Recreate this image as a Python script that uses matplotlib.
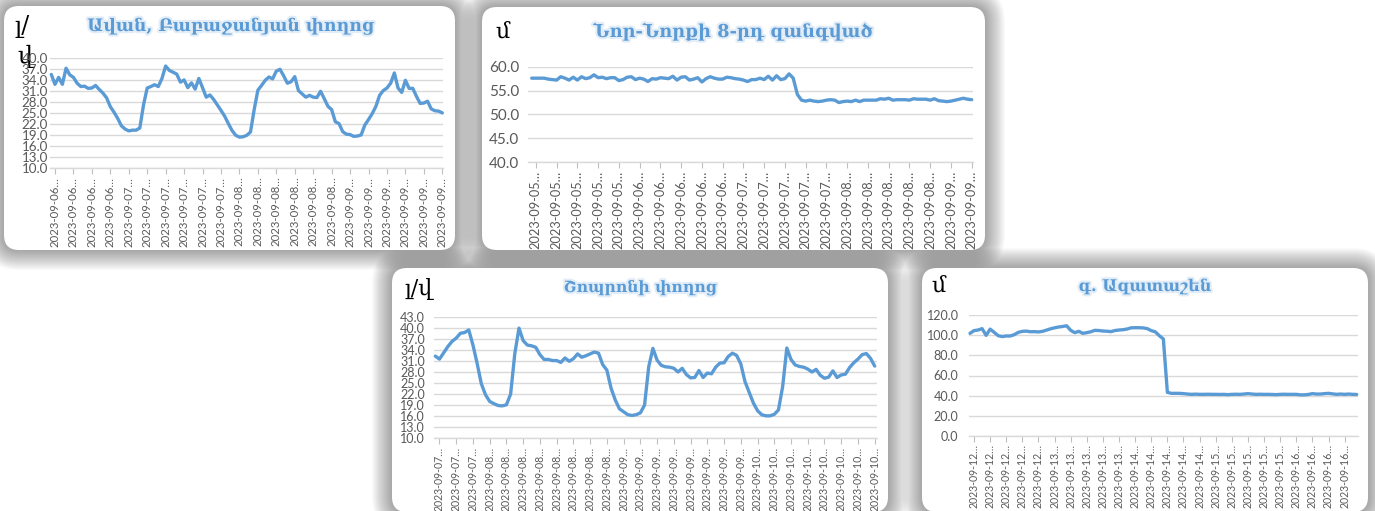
import numpy as np
import matplotlib
matplotlib.use("Agg")
import matplotlib.pyplot as plt
from matplotlib.patches import FancyBboxPatch
import matplotlib.patheffects as pe

W, H = 1375, 511

# ---------------- data ----------------
avan_title = "Ավան, Բաբաջանյան փողոց"
avan_values = [35.6, 32.9, 34.8, 32.9, 37.3, 35.5, 34.8, 33.2, 32.3, 32.4,
               31.8, 31.9, 32.6, 31.5, 30.5, 29.2, 26.8, 25.3, 23.6, 21.6,
               20.7, 20.2, 20.4, 20.4, 21.0, 27.3, 31.9, 32.3, 32.8, 32.3,
               34.5, 37.9, 36.7, 36.2, 35.7, 33.5, 34.1, 32.0, 33.3, 31.6,
               34.5, 32.0, 29.4, 30.0, 28.8, 27.3, 25.8, 24.2, 22.2, 20.3,
               19.0, 18.5, 18.6, 19.0, 19.9, 26.0, 31.3, 32.6, 34.0, 34.9,
               34.4, 36.5, 37.0, 35.2, 33.2, 33.6, 35.0, 31.2, 30.3, 29.4,
               29.9, 29.4, 29.3, 31.0, 29.0, 26.9, 26.0, 22.7, 22.2, 20.0,
               19.3, 19.2, 18.7, 18.8, 19.1, 21.8, 23.3, 24.9, 26.9, 29.9,
               31.2, 31.9, 33.2, 36.0, 31.9, 30.7, 34.0, 31.8, 31.8, 29.6,
               27.7, 27.8, 28.3, 26.2, 25.7, 25.6, 25.1]
avan_labels = (["2023-09-06…"] * 4 + ["2023-09-07…"] * 6 +
               ["2023-09-08…"] * 6 + ["2023-09-09…"] * 6)
avan_yticks = [10, 13, 16, 19, 22, 25, 28, 31, 34, 37, 40]

nornork_title = "Նոր-Նորքի 8-րդ զանգված"
nornork_values = [57.6, 57.6, 57.6, 57.6, 57.4, 57.3, 57.2, 57.9, 57.6, 57.2,
                  57.8, 57.2, 57.9, 57.5, 57.7, 58.3, 57.7, 57.8, 57.5, 57.7,
                  57.7, 57.1, 57.3, 57.8, 57.9, 57.3, 57.6, 57.4, 56.9, 57.5,
                  57.4, 57.7, 57.6, 57.5, 58.0, 57.2, 57.8, 57.9, 57.2, 57.4,
                  57.7, 56.8, 57.5, 57.9, 57.6, 57.4, 57.4, 57.8, 57.7, 57.5,
                  57.4, 57.2, 56.9, 57.3, 57.3, 57.6, 57.3, 58.0, 57.2, 58.1,
                  57.3, 57.5, 58.5, 57.6, 54.2, 53.0, 52.8, 53.0, 52.8, 52.7,
                  52.8, 53.0, 53.1, 53.0, 52.5, 52.7, 52.8, 52.7, 53.0, 52.7,
                  53.0, 53.0, 53.0, 53.0, 53.3, 53.2, 53.4, 53.0, 53.1, 53.1,
                  53.1, 53.0, 53.3, 53.2, 53.2, 53.2, 53.0, 53.3, 52.9, 52.8,
                  52.7, 52.8, 53.0, 53.2, 53.4, 53.2, 53.1]
nornork_labels = (["2023-09-05…"] * 5 + ["2023-09-06…"] * 5 +
                  ["2023-09-07…"] * 5 + ["2023-09-08…"] * 5 +
                  ["2023-09-09…"] * 2)
nornork_yticks = [40, 45, 50, 55, 60]

shopron_title = "Շոպրոնի փողոց"
shopron_values = [32.3, 31.5, 33.2, 34.9, 36.3, 37.2, 38.5, 38.7, 39.4, 35.3,
                  30.3, 24.8, 21.8, 20.0, 19.4, 18.9, 18.8, 19.1, 22.0, 33.0,
                  39.9, 36.5, 35.3, 35.1, 34.7, 32.7, 31.4, 31.4, 31.1, 31.1,
                  30.6, 31.8, 30.9, 31.6, 32.9, 32.0, 32.4, 32.9, 33.4, 33.1,
                  30.0, 28.5, 23.6, 20.4, 18.0, 17.2, 16.4, 16.2, 16.4, 16.9,
                  19.0, 29.4, 34.4, 31.2, 29.8, 29.4, 29.3, 29.0, 28.0, 29.0,
                  27.3, 26.4, 26.5, 28.4, 26.5, 27.7, 27.5, 29.3, 30.4, 30.5,
                  32.2, 33.1, 32.5, 30.2, 25.4, 22.5, 19.6, 17.5, 16.4, 16.1,
                  16.1, 16.5, 17.7, 24.0, 34.5, 31.4, 29.9, 29.5, 29.3, 28.8,
                  28.0, 28.7, 27.1, 26.3, 26.6, 28.3, 26.5, 27.2, 27.4, 29.2,
                  30.5, 31.5, 32.7, 33.0, 31.7, 29.6]
shopron_labels = (["2023-09-07…"] * 3 + ["2023-09-08…"] * 8 +
                  ["2023-09-09…"] * 8 + ["2023-09-10…"] * 8)
shopron_yticks = [10, 13, 16, 19, 22, 25, 28, 31, 34, 37, 40, 43]

azat_title = "գ. Ազատաշեն"
azat_values = [101.8, 104.5, 105.1, 106.5, 99.8, 106.0, 102.8, 99.5, 98.6, 99.2,
               99.2, 100.5, 102.8, 103.8, 104.0, 103.4, 103.5, 103.2, 103.8, 105.0,
               106.3, 107.3, 108.1, 108.6, 109.3, 104.8, 102.5, 103.8, 101.8, 102.5,
               103.4, 104.8, 104.6, 104.1, 103.9, 103.5, 104.6, 105.1, 105.4, 106.1,
               107.3, 107.4, 107.4, 107.2, 106.5, 104.5, 103.3, 99.5, 96.2, 43.3,
               42.3, 42.3, 42.3, 42.0, 41.6, 41.3, 41.5, 41.3, 41.3, 41.4,
               41.3, 41.3, 41.2, 41.3, 41.0, 41.3, 41.4, 41.3, 41.6, 42.0,
               41.6, 41.3, 41.4, 41.3, 41.3, 41.2, 41.0, 41.3, 41.4, 41.3,
               41.3, 41.3, 40.8, 40.8, 41.2, 42.0, 41.6, 41.6, 42.0, 42.3,
               41.8, 41.3, 41.6, 41.3, 41.6, 41.3, 41.2]
azat_labels = (["2023-09-12…"] * 5 + ["2023-09-13…"] * 5 +
               ["2023-09-14…"] * 5 + ["2023-09-15…"] * 5 +
               ["2023-09-16…"] * 4)
azat_yticks = [0, 20, 40, 60, 80, 100, 120]

unit_flow = "լ/վ"
unit_level = "մ"

# ---------------- style ----------------
BLUE = "#5B9BD5"
GRID = "#D9D9D9"
TXT = "#595959"
TICKFONT = ["Lato", "DejaVu Sans"]
ARMFONT = ["DejaVu Serif", "DejaVu Sans"]

fig = plt.figure(figsize=(W / 100, H / 100), dpi=100)
fig.patch.set_facecolor("white")
bg = fig.add_axes([0, 0, 1, 1])
bg.set_xlim(0, W)
bg.set_ylim(H, 0)
bg.axis("off")

panels = [(4, 6, 455, 250), (482, 7, 985, 250), (392, 268, 888, 512), (922, 268, 1368, 512)]
R = 15
for (x0, y0, x1, y1) in panels:
    for p in range(20, 0, -1):
        bg.add_patch(FancyBboxPatch((x0, y0), x1 - x0, y1 - y0,
                                    boxstyle=f"round,pad={p},rounding_size={R + p}",
                                    facecolor="#303030", edgecolor="none", alpha=0.024, zorder=1))
    bg.add_patch(FancyBboxPatch((x0, y0), x1 - x0, y1 - y0,
                                boxstyle=f"round,pad=0,rounding_size={R}",
                                facecolor="white", edgecolor="none", zorder=2))


def add_chart(box, px_first, px_last, values, labels, yticks, tick_start, tick_step,
              ysize, xsize, ypad):
    x0, y0, x1, y1 = box
    ax = fig.add_axes([x0 / W, 1 - y1 / H, (x1 - x0) / W, (y1 - y0) / H])
    ax.patch.set_alpha(0)
    n = len(values)
    xs = np.arange(n)
    per = (px_last - px_first) / (n - 1)
    ax.set_xlim((x0 - px_first) / per, (n - 1) + (x1 - px_last) / per)
    ax.set_ylim(yticks[0], yticks[-1])
    ax.plot(xs, values, color=BLUE, lw=2.4, solid_joinstyle="round",
            solid_capstyle="round", clip_on=False, zorder=3)
    ax.set_yticks(yticks)
    ax.set_yticklabels([f"{v:.1f}" for v in yticks], fontfamily=TICKFONT)
    ticks = [tick_start + tick_step * j for j in range(len(labels))]
    ax.set_xticks(ticks)
    ax.set_xticklabels(labels, rotation=90, fontfamily=TICKFONT)
    ax.grid(axis="y", color=GRID, lw=1.0, zorder=0)
    for s in ["top", "left", "right"]:
        ax.spines[s].set_visible(False)
    ax.spines["bottom"].set_color(GRID)
    ax.spines["bottom"].set_linewidth(1.0)
    ax.tick_params(axis="y", length=0, pad=ypad, labelsize=ysize, labelcolor=TXT)
    ax.tick_params(axis="x", length=4, width=0.8, color="#BFBFBF", pad=2,
                   labelsize=xsize, labelcolor=TXT)
    return ax


add_chart((50, 58.3, 443, 168.3), 51.3, 442.3, avan_values, avan_labels, avan_yticks, 1, 5, 9.6, 8.2, 1.5)
add_chart((528, 66.7, 973, 162.3), 531.7, 971.7, nornork_values, nornork_labels, nornork_yticks, 1, 5, 11, 9.2, 6.5)
add_chart((434, 316.7, 877, 438.3), 435.3, 874.7, shopron_values, shopron_labels, shopron_yticks, 1, 4, 9, 7.6, 6.5)
add_chart((969, 315, 1358, 436), 970, 1356.7, azat_values, azat_labels, azat_yticks, 1, 4, 9, 7.6, 7.5)

glow = [pe.withStroke(linewidth=3, foreground="#E3EDF7")]
titles = [(avan_title, 231, 31, 12.4), (nornork_title, 733, 37, 12.8),
          (shopron_title, 640, 292, 11.2), (azat_title, 1145, 291, 11.6)]
for t, x, y, fs in titles:
    bg.text(x, y, t, color=BLUE, fontsize=fs, fontweight="bold", fontfamily=ARMFONT,
            ha="center", va="baseline", zorder=5, path_effects=glow)

units = [("լ/", 14, 33, 17), ("վ", 17, 63, 17), (unit_level, 495, 38, 16),
         (unit_flow, 405, 295, 16), (unit_level, 931, 292, 16)]
for t, x, y, fs in units:
    bg.text(x, y, t, color="black", fontsize=fs, fontfamily=ARMFONT,
            ha="left", va="baseline", zorder=5)

fig.savefig("out.png", dpi=100, facecolor="white")
